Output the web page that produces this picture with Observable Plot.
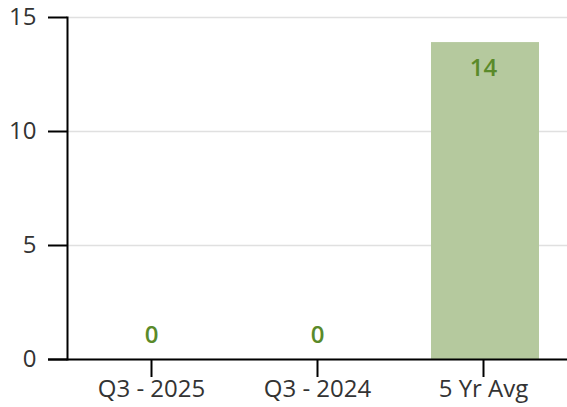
<!DOCTYPE html>
<html>
<head>
<meta charset="utf-8">
<script src="https://cdn.jsdelivr.net/npm/d3@7"></script>
<script src="https://cdn.jsdelivr.net/npm/@observablehq/plot@0.6"></script>
<style>
  html, body { margin: 0; padding: 0; background: #fff; }
  svg { font-family: "Open Sans", sans-serif; }
</style>
</head>
<body>
<div id="chart"></div>
<script>
const categories = ["Q3 - 2025", "Q3 - 2024", "5 Yr Avg"];
const values = [0, 0, 13.9];
const labels = ["0", "0", "14"];
const yTicks = [0, 5, 10, 15];

const data = categories.map((c, i) => ({category: c, value: values[i], label: labels[i]}));

const chart = Plot.plot({
  width: 567,
  height: 407,
  marginLeft: 67,
  marginRight: 0,
  marginTop: 17,
  marginBottom: 48,
  style: {fontSize: "24px", color: "#333", background: "#fff", fontFamily: "'Open Sans', sans-serif"},
  x: {domain: categories, paddingInner: 0.35, paddingOuter: 0.18},
  y: {domain: [0, 15]},
  marks: [
    Plot.gridY(yTicks, {stroke: "#e0e0e0", strokeOpacity: 1, strokeWidth: 1.5}),
    Plot.barY(data, {x: "category", y: "value", fill: "#b5c99e", dx: 2}),
    Plot.text(data.filter(d => d.value > 1), {x: "category", y: "value", text: "label", dy: 26, fill: "#5a8a2a", fontWeight: 600, fontSize: 24}),
    Plot.text(data.filter(d => d.value <= 1), {x: "category", y: "value", text: "label", dy: -24, fill: "#5a8a2a", fontWeight: 600, fontSize: 24}),
    Plot.axisY({ticks: yTicks, tickSize: 19, tickPadding: 12, stroke: "#000", strokeWidth: 2, label: null, fill: "#333", fontSize: 24}),
    Plot.axisX({tickSize: 18, tickPadding: 2, stroke: "#000", strokeWidth: 2, label: null, fill: "#333", fontSize: 24}),
    Plot.frame({anchor: "left", stroke: "#000", strokeWidth: 2}),
    Plot.ruleY([0], {stroke: "#000", strokeWidth: 2, insetLeft: -19})
  ]
});
document.getElementById("chart").appendChild(chart);
</script>
</body>
</html>
